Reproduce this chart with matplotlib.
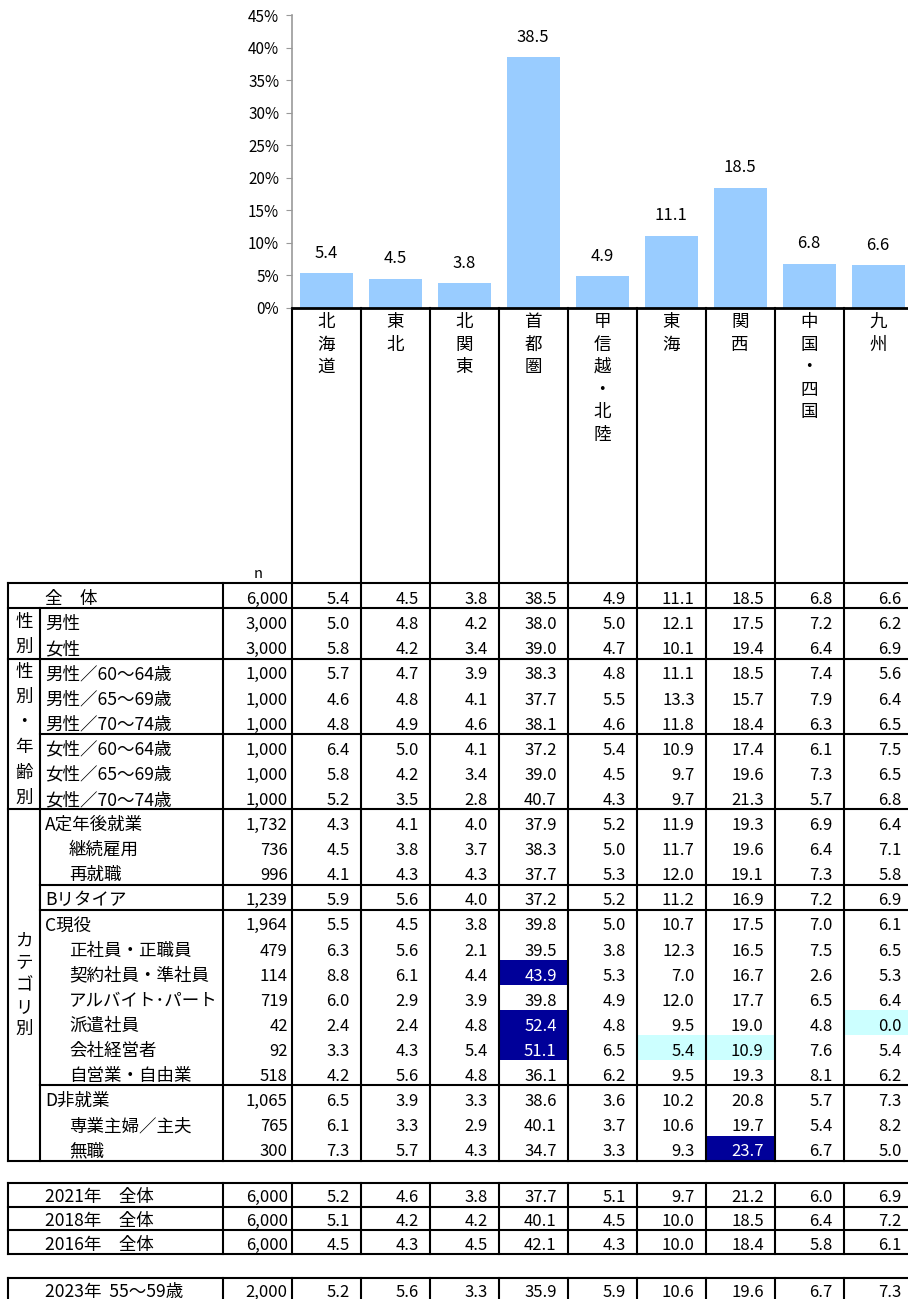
import numpy as np
import matplotlib.pyplot as plt
from matplotlib.patches import Rectangle
from matplotlib.ticker import FuncFormatter

plt.rcParams['font.family'] = ['Noto Sans CJK JP', 'DejaVu Sans']

# ---- data ----
regions = ['北海道', '東北', '北関東', '首都圏', '甲信越・北陸', '東海', '関西', '中国・四国', '九州']
total_pct = [5.4, 4.5, 3.8, 38.5, 4.9, 11.1, 18.5, 6.8, 6.6]

row_labels = ['全　体', '男性', '女性',
              '男性／60～64歳', '男性／65～69歳', '男性／70～74歳',
              '女性／60～64歳', '女性／65～69歳', '女性／70～74歳',
              'A定年後就業', '継続雇用', '再就職', 'Bリタイア',
              'C現役', '正社員・正職員', '契約社員・準社員', 'アルバイト･パート',
              '派遣社員', '会社経営者', '自営業・自由業',
              'D非就業', '専業主婦／主夫', '無職']
row_n = [6000, 3000, 3000, 1000, 1000, 1000, 1000, 1000, 1000,
         1732, 736, 996, 1239, 1964, 479, 114, 719, 42, 92, 518, 1065, 765, 300]
row_vals = [
    [5.4, 4.5, 3.8, 38.5, 4.9, 11.1, 18.5, 6.8, 6.6],
    [5.0, 4.8, 4.2, 38.0, 5.0, 12.1, 17.5, 7.2, 6.2],
    [5.8, 4.2, 3.4, 39.0, 4.7, 10.1, 19.4, 6.4, 6.9],
    [5.7, 4.7, 3.9, 38.3, 4.8, 11.1, 18.5, 7.4, 5.6],
    [4.6, 4.8, 4.1, 37.7, 5.5, 13.3, 15.7, 7.9, 6.4],
    [4.8, 4.9, 4.6, 38.1, 4.6, 11.8, 18.4, 6.3, 6.5],
    [6.4, 5.0, 4.1, 37.2, 5.4, 10.9, 17.4, 6.1, 7.5],
    [5.8, 4.2, 3.4, 39.0, 4.5, 9.7, 19.6, 7.3, 6.5],
    [5.2, 3.5, 2.8, 40.7, 4.3, 9.7, 21.3, 5.7, 6.8],
    [4.3, 4.1, 4.0, 37.9, 5.2, 11.9, 19.3, 6.9, 6.4],
    [4.5, 3.8, 3.7, 38.3, 5.0, 11.7, 19.6, 6.4, 7.1],
    [4.1, 4.3, 4.3, 37.7, 5.3, 12.0, 19.1, 7.3, 5.8],
    [5.9, 5.6, 4.0, 37.2, 5.2, 11.2, 16.9, 7.2, 6.9],
    [5.5, 4.5, 3.8, 39.8, 5.0, 10.7, 17.5, 7.0, 6.1],
    [6.3, 5.6, 2.1, 39.5, 3.8, 12.3, 16.5, 7.5, 6.5],
    [8.8, 6.1, 4.4, 43.9, 5.3, 7.0, 16.7, 2.6, 5.3],
    [6.0, 2.9, 3.9, 39.8, 4.9, 12.0, 17.7, 6.5, 6.4],
    [2.4, 2.4, 4.8, 52.4, 4.8, 9.5, 19.0, 4.8, 0.0],
    [3.3, 4.3, 5.4, 51.1, 6.5, 5.4, 10.9, 7.6, 5.4],
    [4.2, 5.6, 4.8, 36.1, 6.2, 9.5, 19.3, 8.1, 6.2],
    [6.5, 3.9, 3.3, 38.6, 3.6, 10.2, 20.8, 5.7, 7.3],
    [6.1, 3.3, 2.9, 40.1, 3.7, 10.6, 19.7, 5.4, 8.2],
    [7.3, 5.7, 4.3, 34.7, 3.3, 9.3, 23.7, 6.7, 5.0],
]
sub_rows = ['継続雇用', '再就職', '正社員・正職員', '契約社員・準社員', 'アルバイト･パート',
            '派遣社員', '会社経営者', '自営業・自由業', '専業主婦／主夫', '無職']

group_names = ['性別', '性別・年齢別', 'カテゴリ別']
group_spans = [(1, 3), (3, 9), (9, 23)]
inner_breaks = [6, 12, 13, 20]

year_labels = ['2021年　全体', '2018年　全体', '2016年　全体']
year_n = [6000, 6000, 6000]
year_vals = [
    [5.2, 4.6, 3.8, 37.7, 5.1, 9.7, 21.2, 6.0, 6.9],
    [5.1, 4.2, 4.2, 40.1, 4.5, 10.0, 18.5, 6.4, 7.2],
    [4.5, 4.3, 4.5, 42.1, 4.3, 10.0, 18.4, 5.8, 6.1],
]
pre_labels = ['2023年  55～59歳']
pre_n = [2000]
pre_vals = [[5.2, 5.6, 3.3, 35.9, 5.9, 10.6, 19.6, 6.7, 7.3]]

# ---- layout (pixels) ----
W, H = 908, 1299
X_LEFT, X_GRP, X_LAB, X_N = 7.5, 40, 222.7, 291.7
COL_W = 69
HEAD_TOP = 308
AX_TOP = 15
TOP, RH = 583.3, 25.1
Y_YEARS, Y_PRE, RH2 = 1183, 1277.5, 23.7
LW = 1.5
FS_LAB, FS_NUM = 12.6, 12
HI_DARK, HI_LIGHT = '#000099', '#CCFFFF'

fig = plt.figure(figsize=(W / 100, H / 100), dpi=100)
tx = fig.add_axes([0, 0, 1, 1])
tx.set_xlim(0, W)
tx.set_ylim(H, 0)
tx.axis('off')

# ---- bar chart ----
ax = fig.add_axes([X_N / W, 1 - HEAD_TOP / H, (W - X_N) / W, (HEAD_TOP - AX_TOP) / H])
ax.patch.set_alpha(0)
xs = np.arange(len(regions))
ax.bar(xs, total_pct, width=0.77, color='#99CCFF', zorder=2)
for xi, v in zip(xs, total_pct):
    ax.annotate(f'{v:.1f}', (xi, v), xytext=(0, 11), textcoords='offset points',
                ha='center', va='baseline', fontsize=12)
ax.set_xlim(-0.5, (W - X_N - COL_W / 2) / COL_W)
ax.set_ylim(0, 45)
ax.set_yticks(np.arange(0, 46, 5))
ax.yaxis.set_major_formatter(FuncFormatter(lambda v, p: f'{v:.0f}%'))
ax.set_xticks([])
ax.tick_params(axis='y', length=4, color='#999999', labelsize=11, pad=5)
ax.spines['top'].set_visible(False)
ax.spines['right'].set_visible(False)
ax.spines['left'].set_color('#999999')
ax.spines['left'].set_linewidth(1.2)
ax.spines['bottom'].set_color('black')
ax.spines['bottom'].set_linewidth(2)

# ---- table helpers ----
col_edges = [X_N + COL_W * k for k in range(len(regions) + 1)]


def hline(y, x0=X_LEFT, x1=col_edges[-1]):
    tx.plot([x0, x1], [y, y], color='black', lw=LW, solid_capstyle='projecting')


def vline(x, y0, y1):
    tx.plot([x, x], [y0, y1], color='black', lw=LW, solid_capstyle='projecting')


def draw_row(top, rh, label, n, vals, indent=False, highlights=None):
    base = top + rh - 4.3
    tx.text(69 if indent else 45, base, label, ha='left', va='baseline', fontsize=FS_LAB)
    tx.text(X_N - 4, base, f'{n:,}', ha='right', va='baseline', fontsize=FS_NUM)
    for k, v in enumerate(vals):
        color = 'black'
        if highlights is not None and highlights[k]:
            tx.add_patch(Rectangle((col_edges[k], top), COL_W, rh,
                                   facecolor=highlights[k], edgecolor='none', zorder=0))
            if highlights[k] == HI_DARK:
                color = 'white'
        tx.text(col_edges[k + 1] - 11, base, f'{v:.1f}', ha='right', va='baseline',
                fontsize=FS_NUM, color=color)


# ---- header: region names vertical ----
main_bottom = TOP + RH * len(row_labels)
for x in col_edges:
    vline(x, HEAD_TOP, main_bottom)
for k, name in enumerate(regions):
    cx = col_edges[k] + COL_W / 2
    for j, ch in enumerate(name):
        tx.text(cx, 322 + 22.5 * j, ch, ha='center', va='center', fontsize=FS_LAB)
tx.text(258, 578, 'n', ha='center', va='baseline', fontsize=10.5)

# ---- main table ----
base_vals = row_vals[0]
for i, (lab, n, vals) in enumerate(zip(row_labels, row_n, row_vals)):
    hl = None
    if i > 0:
        hl = []
        for v, b in zip(vals, base_vals):
            if v - b >= 5:
                hl.append(HI_DARK)
            elif v - b <= -5:
                hl.append(HI_LIGHT)
            else:
                hl.append(None)
    draw_row(TOP + RH * i, RH, lab, n, vals, indent=lab in sub_rows, highlights=hl)

hline(TOP)
hline(main_bottom)
for s, e in group_spans:
    hline(TOP + RH * s)
for b in inner_breaks:
    hline(TOP + RH * b, x0=X_GRP)
vline(X_LEFT, TOP, main_bottom)
vline(X_GRP, TOP + RH, main_bottom)
vline(X_LAB, TOP, main_bottom)

for name, (s, e) in zip(group_names, group_spans):
    if e - s == len(name):
        ys = [TOP + RH * (s + j) + RH / 2 + 1 for j in range(len(name))]
    else:
        mid = TOP + RH * (s + e) / 2
        ys = [mid + 22 * (j - (len(name) - 1) / 2) for j in range(len(name))]
    for ch, y in zip(name, ys):
        tx.text(24, y, ch, ha='center', va='center', fontsize=FS_LAB)

# ---- past years table ----
for i, (lab, n, vals) in enumerate(zip(year_labels, year_n, year_vals)):
    draw_row(Y_YEARS + RH2 * i, RH2, lab, n, vals)
for i in range(len(year_labels) + 1):
    hline(Y_YEARS + RH2 * i)
for x in [X_LEFT, X_LAB] + col_edges:
    vline(x, Y_YEARS, Y_YEARS + RH2 * len(year_labels))

# ---- pre-senior table ----
for i, (lab, n, vals) in enumerate(zip(pre_labels, pre_n, pre_vals)):
    draw_row(Y_PRE + RH2 * i, RH2, lab, n, vals)
for i in range(len(pre_labels) + 1):
    hline(Y_PRE + RH2 * i)
for x in [X_LEFT, X_LAB] + col_edges:
    vline(x, Y_PRE, Y_PRE + RH2 * len(pre_labels))

fig.savefig('out.png', dpi=100)
